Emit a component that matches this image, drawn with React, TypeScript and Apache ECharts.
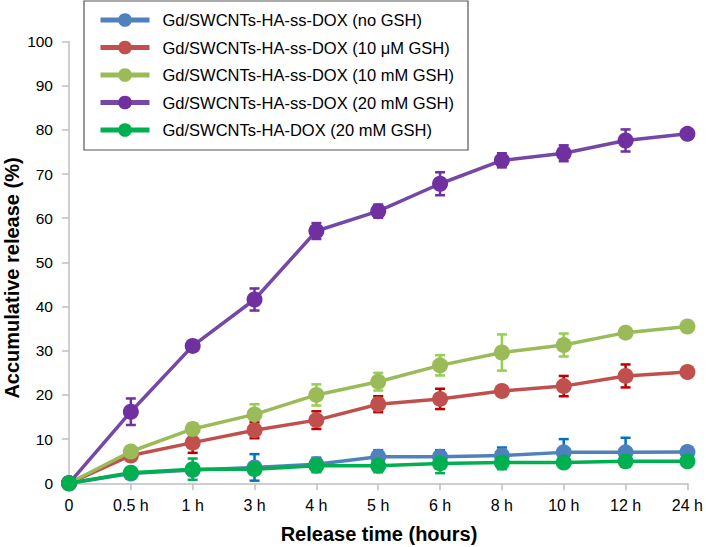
import React, { useEffect, useRef } from "react";
import * as echarts from "echarts";

const categories = ["0", "0.5 h", "1 h", "3 h", "4 h", "5 h", "6 h", "8 h", "10 h", "12 h", "24 h"];

const seriesNames = [
  "Gd/SWCNTs-HA-ss-DOX (no GSH)",
  "Gd/SWCNTs-HA-ss-DOX (10 μM GSH)",
  "Gd/SWCNTs-HA-ss-DOX (10 mM GSH)",
  "Gd/SWCNTs-HA-ss-DOX (20 mM GSH)",
  "Gd/SWCNTs-HA-DOX (20 mM GSH)",
];

const noGSH = [0, 2.2, 3.0, 3.6, 4.3, 6.0, 6.0, 6.3, 7.0, 7.0, 7.1];
const noGSHErr = [0, 1.0, 0.5, 3.0, 1.5, 1.5, 1.5, 1.8, 3.0, 3.3, 0.3];

const uM10 = [0, 6.3, 9.2, 12.0, 14.3, 17.9, 19.1, 20.9, 22.0, 24.3, 25.2];
const uM10Err = [0, 0.5, 2.3, 1.8, 2.0, 1.8, 2.3, 1.0, 2.3, 2.6, 0.3];

const mM10 = [0, 7.2, 12.3, 15.6, 20.0, 23.0, 26.7, 29.6, 31.3, 34.1, 35.5];
const mM10Err = [0, 0.5, 1.3, 2.3, 2.4, 2.0, 2.3, 4.1, 2.6, 0.8, 0.3];

const mM20 = [0, 16.2, 31.1, 41.6, 57.1, 61.6, 67.8, 73.1, 74.7, 77.6, 79.1];
const mM20Err = [0, 3.0, 0.8, 2.5, 1.8, 1.5, 2.6, 1.6, 1.8, 2.5, 0.3];

const haDox = [0, 2.4, 3.2, 3.2, 4.0, 4.0, 4.5, 4.7, 4.7, 5.0, 5.0];
const haDoxErr = [0, 0.5, 2.4, 1.0, 1.5, 1.5, 2.2, 1.5, 1.0, 0.5, 0.3];

const yTicks = { min: 0, max: 100, interval: 10 };

const FONT = "'Liberation Sans', Arial, sans-serif";

const lineColors = ["#4F81BD", "#C0504D", "#9BBB59", "#7548A5", "#00B050"];
const markerColors = ["#4F81BD", "#C0504D", "#9BBB59", "#7030A0", "#00B050"];
const errColors = ["#0070C0", "#C00000", "#92D050", "#7030A0", "#00B050"];

const values = [noGSH, uM10, mM10, mM20, haDox];
const errors = [noGSHErr, uM10Err, mM10Err, mM20Err, haDoxErr];

export default function App() {
  const ref = useRef<HTMLDivElement>(null);
  useEffect(() => {
    if (!ref.current) return;
    const chart = echarts.init(ref.current, null, { renderer: "svg" });

    const errSeries = values.map((vals, si) => ({
      type: "custom",
      name: "err" + si,
      z: 1,
      silent: true,
      data: vals.map((v, i) => [i, v, errors[si][i]]),
      renderItem: (params: any, api: any) => {
        const x = api.value(0);
        const y = api.value(1);
        const e = api.value(2);
        if (!e) return null;
        const top = api.coord([x, y + e]);
        const bot = api.coord([x, y - e]);
        const hw = 5;
        const style = { stroke: errColors[si], lineWidth: 2.5 };
        return {
          type: "group",
          children: [
            { type: "line", shape: { x1: top[0], y1: top[1], x2: bot[0], y2: bot[1] }, style },
            { type: "line", shape: { x1: top[0] - hw, y1: top[1], x2: top[0] + hw, y2: top[1] }, style },
            { type: "line", shape: { x1: bot[0] - hw, y1: bot[1], x2: bot[0] + hw, y2: bot[1] }, style },
          ],
        };
      },
    }));

    const lineSeries = values.map((vals, si) => ({
      type: "line",
      name: seriesNames[si],
      z: 2 + si,
      data: vals,
      symbol: "circle",
      symbolSize: 16,
      showSymbol: true,
      lineStyle: { color: lineColors[si], width: 3.5 },
      itemStyle: { color: markerColors[si], borderWidth: 0 },
    }));

    chart.setOption({
      animation: false,
      textStyle: { fontFamily: FONT },
      grid: { left: 69, right: 15.5, top: 41.5, bottom: 63.7, containLabel: false },
      legend: {
        data: seriesNames,
        orient: "vertical",
        left: 98,
        top: 11.5,
        padding: 0,
        itemWidth: 49,
        itemHeight: 17,
        itemGap: 10.5,
        lineStyle: { width: 5 },
        textStyle: { fontSize: 16.5, color: "#000", fontFamily: FONT, lineHeight: 17, padding: [0, 0, 0, 8] },
      },
      xAxis: {
        type: "category",
        data: categories,
        boundaryGap: false,
        axisLine: { lineStyle: { color: "#BFBFBF", width: 1.5 } },
        axisTick: { length: 7, lineStyle: { color: "#BFBFBF", width: 1.5 } },
        axisLabel: { color: "#000", fontSize: 16, margin: 14, fontFamily: FONT },
        splitLine: { show: false },
      },
      yAxis: {
        type: "value",
        min: yTicks.min,
        max: yTicks.max,
        interval: yTicks.interval,
        axisLine: { show: true, lineStyle: { color: "#BFBFBF", width: 1.5 } },
        axisTick: { show: true, length: 7, lineStyle: { color: "#BFBFBF", width: 1.5 } },
        axisLabel: { color: "#000", fontSize: 15.5, margin: 16, fontFamily: FONT },
        splitLine: { show: false },
      },
      graphic: [
        {
          type: "rect",
          shape: { x: 84, y: 1, width: 384, height: 149 },
          style: { fill: "none", stroke: "#555", lineWidth: 1.2 },
          z: 0,
        },
        {
          type: "text",
          x: 12,
          y: 278,
          rotation: Math.PI / 2,
          style: {
            text: "Accumulative release (%)",
            fontSize: 20,
            fontWeight: "bold",
            fontFamily: FONT,
            fill: "#000",
            align: "center",
            verticalAlign: "middle",
          },
        },
        {
          type: "text",
          x: 379,
          y: 534,
          style: {
            text: "Release time (hours)",
            fontSize: 20,
            fontWeight: "bold",
            fontFamily: FONT,
            fill: "#000",
            align: "center",
            verticalAlign: "middle",
          },
        },
      ],
      series: [...errSeries, ...lineSeries],
    });
    return () => chart.dispose();
  }, []);
  return (
    <div
      ref={ref}
      style={{ position: "absolute", left: 0, top: 0, width: 706, height: 547, background: "#fff" }}
    />
  );
}
